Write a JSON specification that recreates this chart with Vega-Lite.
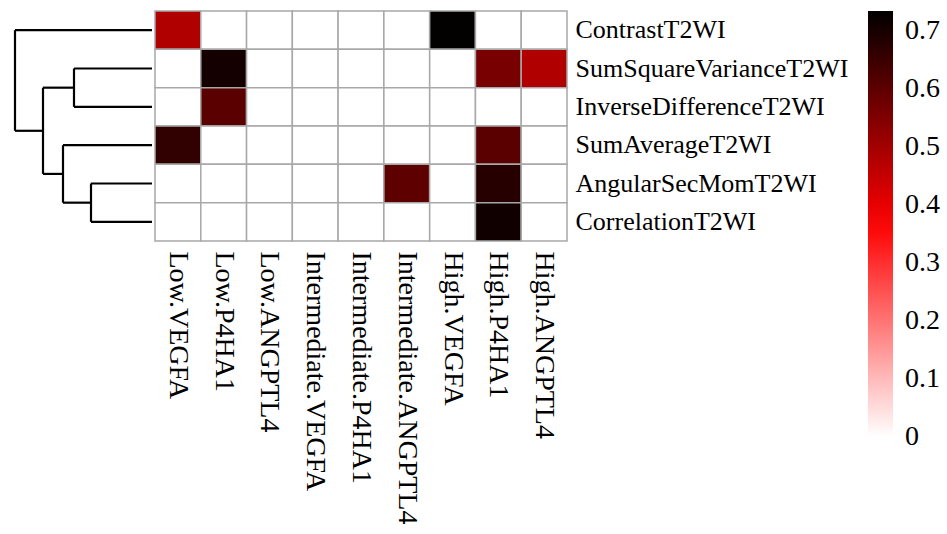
{
  "$schema": "https://vega.github.io/schema/vega-lite/v6.json",
  "padding": {"left": 5, "top": 10, "right": 5, "bottom": 5},
  "background": "white",
  "config": {"view": {"stroke": null}, "font": "Liberation Serif", "concat": {"spacing": 0}},
  "datasets": {
    "cells": [
      {"row": "ContrastT2WI", "col": "Low.VEGFA", "value": 0.48},
      {"row": "ContrastT2WI", "col": "Low.P4HA1", "value": 0},
      {"row": "ContrastT2WI", "col": "Low.ANGPTL4", "value": 0},
      {"row": "ContrastT2WI", "col": "Intermediate.VEGFA", "value": 0},
      {"row": "ContrastT2WI", "col": "Intermediate.P4HA1", "value": 0},
      {"row": "ContrastT2WI", "col": "Intermediate.ANGPTL4", "value": 0},
      {"row": "ContrastT2WI", "col": "High.VEGFA", "value": 0.73},
      {"row": "ContrastT2WI", "col": "High.P4HA1", "value": 0},
      {"row": "ContrastT2WI", "col": "High.ANGPTL4", "value": 0},
      {"row": "SumSquareVarianceT2WI", "col": "Low.VEGFA", "value": 0},
      {"row": "SumSquareVarianceT2WI", "col": "Low.P4HA1", "value": 0.705},
      {"row": "SumSquareVarianceT2WI", "col": "Low.ANGPTL4", "value": 0},
      {"row": "SumSquareVarianceT2WI", "col": "Intermediate.VEGFA", "value": 0},
      {"row": "SumSquareVarianceT2WI", "col": "Intermediate.P4HA1", "value": 0},
      {"row": "SumSquareVarianceT2WI", "col": "Intermediate.ANGPTL4", "value": 0},
      {"row": "SumSquareVarianceT2WI", "col": "High.VEGFA", "value": 0},
      {"row": "SumSquareVarianceT2WI", "col": "High.P4HA1", "value": 0.56},
      {"row": "SumSquareVarianceT2WI", "col": "High.ANGPTL4", "value": 0.48},
      {"row": "InverseDifferenceT2WI", "col": "Low.VEGFA", "value": 0},
      {"row": "InverseDifferenceT2WI", "col": "Low.P4HA1", "value": 0.605},
      {"row": "InverseDifferenceT2WI", "col": "Low.ANGPTL4", "value": 0},
      {"row": "InverseDifferenceT2WI", "col": "Intermediate.VEGFA", "value": 0},
      {"row": "InverseDifferenceT2WI", "col": "Intermediate.P4HA1", "value": 0},
      {"row": "InverseDifferenceT2WI", "col": "Intermediate.ANGPTL4", "value": 0},
      {"row": "InverseDifferenceT2WI", "col": "High.VEGFA", "value": 0},
      {"row": "InverseDifferenceT2WI", "col": "High.P4HA1", "value": 0},
      {"row": "InverseDifferenceT2WI", "col": "High.ANGPTL4", "value": 0},
      {"row": "SumAverageT2WI", "col": "Low.VEGFA", "value": 0.665},
      {"row": "SumAverageT2WI", "col": "Low.P4HA1", "value": 0},
      {"row": "SumAverageT2WI", "col": "Low.ANGPTL4", "value": 0},
      {"row": "SumAverageT2WI", "col": "Intermediate.VEGFA", "value": 0},
      {"row": "SumAverageT2WI", "col": "Intermediate.P4HA1", "value": 0},
      {"row": "SumAverageT2WI", "col": "Intermediate.ANGPTL4", "value": 0},
      {"row": "SumAverageT2WI", "col": "High.VEGFA", "value": 0},
      {"row": "SumAverageT2WI", "col": "High.P4HA1", "value": 0.605},
      {"row": "SumAverageT2WI", "col": "High.ANGPTL4", "value": 0},
      {"row": "AngularSecMomT2WI", "col": "Low.VEGFA", "value": 0},
      {"row": "AngularSecMomT2WI", "col": "Low.P4HA1", "value": 0},
      {"row": "AngularSecMomT2WI", "col": "Low.ANGPTL4", "value": 0},
      {"row": "AngularSecMomT2WI", "col": "Intermediate.VEGFA", "value": 0},
      {"row": "AngularSecMomT2WI", "col": "Intermediate.P4HA1", "value": 0},
      {"row": "AngularSecMomT2WI", "col": "Intermediate.ANGPTL4", "value": 0.6},
      {"row": "AngularSecMomT2WI", "col": "High.VEGFA", "value": 0},
      {"row": "AngularSecMomT2WI", "col": "High.P4HA1", "value": 0.68},
      {"row": "AngularSecMomT2WI", "col": "High.ANGPTL4", "value": 0},
      {"row": "CorrelationT2WI", "col": "Low.VEGFA", "value": 0},
      {"row": "CorrelationT2WI", "col": "Low.P4HA1", "value": 0},
      {"row": "CorrelationT2WI", "col": "Low.ANGPTL4", "value": 0},
      {"row": "CorrelationT2WI", "col": "Intermediate.VEGFA", "value": 0},
      {"row": "CorrelationT2WI", "col": "Intermediate.P4HA1", "value": 0},
      {"row": "CorrelationT2WI", "col": "Intermediate.ANGPTL4", "value": 0},
      {"row": "CorrelationT2WI", "col": "High.VEGFA", "value": 0},
      {"row": "CorrelationT2WI", "col": "High.P4HA1", "value": 0.71},
      {"row": "CorrelationT2WI", "col": "High.ANGPTL4", "value": 0}
    ],
    "tree": [
      {"h": 0, "h2": 137, "y": 0.5, "y2": 0.5},
      {"h": 0, "h2": 78, "y": 1.5, "y2": 1.5},
      {"h": 0, "h2": 78, "y": 2.5, "y2": 2.5},
      {"h": 0, "h2": 89, "y": 3.5, "y2": 3.5},
      {"h": 0, "h2": 61, "y": 4.5, "y2": 4.5},
      {"h": 0, "h2": 61, "y": 5.5, "y2": 5.5},
      {"h": 78, "h2": 78, "y": 1.5, "y2": 2.5},
      {"h": 61, "h2": 61, "y": 4.5, "y2": 5.5},
      {"h": 89, "h2": 89, "y": 3.5, "y2": 5.0},
      {"h": 109, "h2": 109, "y": 2.0, "y2": 4.25},
      {"h": 137, "h2": 137, "y": 0.5, "y2": 3.125},
      {"h": 78, "h2": 109, "y": 2.0, "y2": 2.0},
      {"h": 61, "h2": 89, "y": 5.0, "y2": 5.0},
      {"h": 89, "h2": 109, "y": 4.25, "y2": 4.25},
      {"h": 109, "h2": 137, "y": 3.125, "y2": 3.125}
    ]
  },
  "hconcat": [
    {
      "width": 147,
      "height": 230,
      "data": {"name": "tree"},
      "mark": {"type": "rule", "color": "black", "strokeWidth": 2.2},
      "encoding": {
        "x": {"field": "h", "type": "quantitative", "axis": null, "scale": {"domain": [0, 147], "reverse": true, "nice": false, "zero": false}},
        "x2": {"field": "h2"},
        "y": {"field": "y", "type": "quantitative", "axis": null, "scale": {"domain": [0, 6], "reverse": true, "nice": false, "zero": false}},
        "y2": {"field": "y2"}
      }
    },
    {
      "width": 412,
      "height": 230,
      "data": {"name": "cells"},
      "mark": {"type": "rect", "stroke": "#a8a8a8", "strokeWidth": 1.5},
      "encoding": {
        "x": {
          "field": "col", "type": "ordinal",
          "sort": ["Low.VEGFA", "Low.P4HA1", "Low.ANGPTL4", "Intermediate.VEGFA", "Intermediate.P4HA1", "Intermediate.ANGPTL4", "High.VEGFA", "High.P4HA1", "High.ANGPTL4"],
          "scale": {"paddingInner": 0, "paddingOuter": 0},
          "axis": {"title": null, "orient": "bottom", "ticks": false, "domain": false, "labelAngle": 90, "labelAlign": "left", "labelBaseline": "middle", "labelPadding": 10, "labelFontSize": 28, "labelColor": "black", "labelFont": "Liberation Serif", "labelLimit": 0}
        },
        "y": {
          "field": "row", "type": "ordinal",
          "sort": ["ContrastT2WI", "SumSquareVarianceT2WI", "InverseDifferenceT2WI", "SumAverageT2WI", "AngularSecMomT2WI", "CorrelationT2WI"],
          "scale": {"paddingInner": 0, "paddingOuter": 0},
          "axis": {"title": null, "orient": "right", "ticks": false, "domain": false, "labelPadding": 8, "labelFontSize": 26, "labelColor": "black", "labelFont": "Liberation Serif", "labelLimit": 0}
        },
        "color": {
          "field": "value", "type": "quantitative",
          "scale": {"type": "linear", "domain": [0, 0.3675, 0.735], "range": ["#ffffff", "#ff0000", "#000000"], "interpolate": "rgb", "zero": false, "nice": false},
          "legend": {"title": null, "gradientLength": 426, "gradientThickness": 25, "values": [0, 0.1, 0.2, 0.3, 0.4, 0.5, 0.6, 0.7], "format": ".1~f", "labelFontSize": 28, "labelFont": "Liberation Serif", "labelColor": "black", "labelOffset": 12, "gradientStrokeWidth": 0, "offset": 20,
            "encode": {"labels": {"update": {"baseline": {"value": "middle"}}}}}
        }
      }
    }
  ]
}
